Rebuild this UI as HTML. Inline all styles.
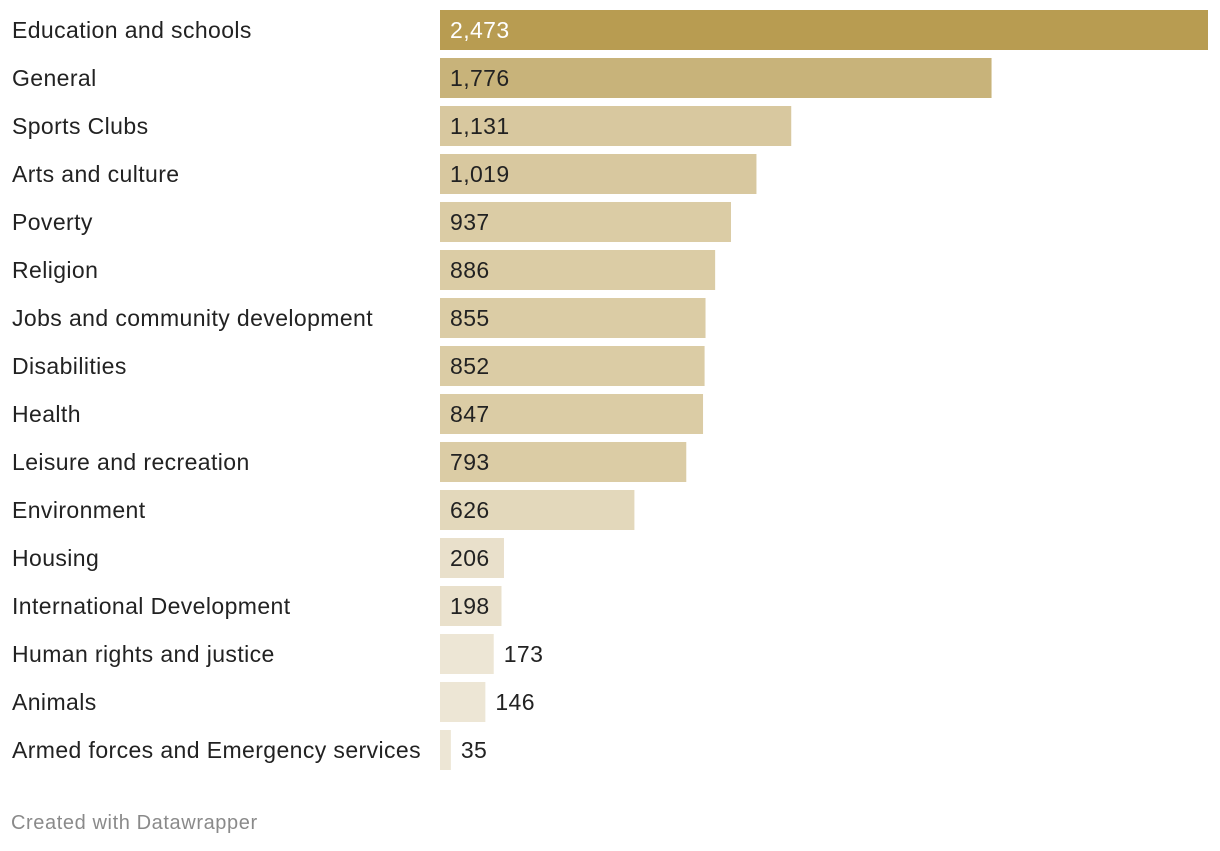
<!DOCTYPE html>
<html><head><meta charset="utf-8"><style>
body{margin:0;background:#fff;width:1220px;height:846px;overflow:hidden;font-family:"Liberation Sans",sans-serif}
</style></head><body>
<svg id="chart" width="1220" height="846" xmlns="http://www.w3.org/2000/svg"></svg>
<script>
const categories=["Education and schools","General","Sports Clubs","Arts and culture","Poverty","Religion","Jobs and community development","Disabilities","Health","Leisure and recreation","Environment","Housing","International Development","Human rights and justice","Animals","Armed forces and Emergency services"];
const values=[2473,1776,1131,1019,937,886,855,852,847,793,626,206,198,173,146,35];
const labels=["2,473","1,776","1,131","1,019","937","886","855","852","847","793","626","206","198","173","146","35"];
const svg=document.getElementById('chart');
const NS="http://www.w3.org/2000/svg";
const x0=440,x1=1208,maxV=Math.max(...values);
const xs=v=>v/maxV*(x1-x0);
const ys=i=>10+i*48;
function color(v){
  if(v>=2000)return "#b89c51";
  if(v>=1500)return "#c8b37a";
  if(v>=1000)return "#d8c89f";
  if(v>=790)return "#dbcca5";
  if(v>=500)return "#e3d8bb";
  if(v>=180)return "#e9e0cb";
  return "#ede6d5";
}
categories.forEach((c,i)=>{
  const t=document.createElementNS(NS,'text');
  
  
  t.setAttribute('x',12);t.setAttribute('y',ys(i)+28);
  t.setAttribute('font-size','23');t.setAttribute('letter-spacing','0.4');t.setAttribute('fill','#222');
  t.textContent=c;svg.appendChild(t);
  const w=xs(values[i]);
  const r=document.createElementNS(NS,'rect');
  
  
  r.setAttribute('x',x0);r.setAttribute('y',ys(i));
  r.setAttribute('width',w);r.setAttribute('height',40);
  r.setAttribute('fill',color(values[i]));svg.appendChild(r);
  const l=document.createElementNS(NS,'text');
  
  
  const inside=w>58;
  l.setAttribute('x',inside?x0+10:x0+w+10);
  l.setAttribute('y',ys(i)+28);
  l.setAttribute('font-size','23');l.setAttribute('letter-spacing','0.4');
  l.setAttribute('fill',i===0?'#fff':'#222');
  l.textContent=labels[i];svg.appendChild(l);
});
const f=document.createElementNS(NS,'text');


f.setAttribute('x',11);f.setAttribute('y',829);
f.setAttribute('font-size','20');f.setAttribute('letter-spacing','0.6');f.setAttribute('fill','#8a8a8a');
f.textContent="Created with Datawrapper";svg.appendChild(f);
</script>
</body></html>
